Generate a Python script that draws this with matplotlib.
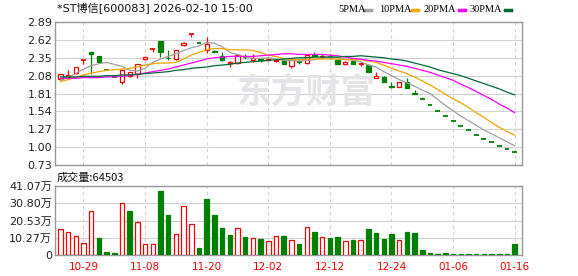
import matplotlib.pyplot as plt
import numpy as np
from matplotlib.lines import Line2D

plt.rcParams['font.family'] = ['DejaVu Sans', 'Noto Sans CJK SC']

# daily candles
opens = [2.03, 2.06, 2.12, 2.32, 2.44, 2.37, 2.17, 2.06, 1.98, 2.08,
         2.11, 2.33, 2.48, 2.60, 2.35, 2.33, 2.54, 2.71, 2.57, 2.47,
         2.45, 2.38, 2.27, 2.27, 2.37, 2.31, 2.33, 2.31, 2.30, 2.31,
         2.22, 2.30, 2.27, 2.39, 2.36, 2.37, 2.32, 2.25, 2.30, 2.26,
         2.24, 2.04, 2.06, 1.92, 1.91, 1.98, 1.82, 1.72, 1.63, 1.54,
         1.47, 1.39, 1.32, 1.26, 1.19, 1.13, 1.08, 1.02, 0.97, 0.92]
highs = [2.11, 2.16, 2.21, 2.32, 2.44, 2.37, 2.17, 2.06, 2.17, 2.14,
         2.26, 2.36, 2.48, 2.60, 2.47, 2.47, 2.59, 2.71, 2.57, 2.66,
         2.47, 2.44, 2.30, 2.40, 2.41, 2.41, 2.35, 2.34, 2.33, 2.31,
         2.31, 2.31, 2.39, 2.43, 2.40, 2.40, 2.33, 2.30, 2.31, 2.29,
         2.26, 2.14, 2.07, 1.98, 1.99, 2.04, 1.87, 1.75, 1.63, 1.54,
         1.47, 1.39, 1.32, 1.26, 1.19, 1.13, 1.08, 1.02, 0.97, 0.92]
lows = [2.01, 2.05, 2.11, 2.25, 2.10, 2.28, 2.17, 2.06, 1.96, 2.06,
        2.05, 2.32, 2.44, 2.36, 2.32, 2.32, 2.53, 2.66, 2.57, 2.42,
        2.43, 2.30, 2.21, 2.26, 2.33, 2.29, 2.29, 2.30, 2.29, 2.25,
        2.20, 2.26, 2.26, 2.36, 2.35, 2.35, 2.25, 2.24, 2.25, 2.23,
        2.14, 2.04, 1.98, 1.90, 1.91, 1.90, 1.81, 1.72, 1.63, 1.54,
        1.47, 1.39, 1.32, 1.26, 1.19, 1.13, 1.08, 1.02, 0.97, 0.92]
closes = [2.10, 2.09, 2.21, 2.32, 2.41, 2.29, 2.17, 2.06, 2.16, 2.13,
          2.25, 2.36, 2.48, 2.43, 2.34, 2.46, 2.58, 2.71, 2.57, 2.56,
          2.44, 2.31, 2.29, 2.39, 2.36, 2.34, 2.32, 2.33, 2.32, 2.26,
          2.31, 2.29, 2.39, 2.37, 2.38, 2.36, 2.26, 2.29, 2.25, 2.27,
          2.14, 2.08, 1.98, 1.91, 1.98, 1.90, 1.81, 1.72, 1.63, 1.54,
          1.47, 1.39, 1.32, 1.26, 1.19, 1.13, 1.08, 1.02, 0.97, 0.92]

ma5 = [2.01, 2.06, 2.11, 2.18, 2.23, 2.26, 2.28, 2.25, 2.22, 2.16,
       2.15, 2.19, 2.28, 2.33, 2.37, 2.41, 2.46, 2.50, 2.53, 2.58,
       2.57, 2.52, 2.43, 2.40, 2.36, 2.34, 2.34, 2.35, 2.33, 2.31,
       2.31, 2.30, 2.31, 2.32, 2.35, 2.36, 2.35, 2.33, 2.31, 2.29,
       2.24, 2.21, 2.14, 2.08, 2.02, 1.97, 1.92, 1.86, 1.81, 1.72,
       1.63, 1.55, 1.47, 1.40, 1.33, 1.26, 1.20, 1.14, 1.08, 1.02]
ma10 = [1.99, 2.02, 2.05, 2.09, 2.12, 2.14, 2.16, 2.17, 2.18, 2.19,
        2.21, 2.24, 2.26, 2.27, 2.27, 2.28, 2.33, 2.39, 2.43, 2.47,
        2.49, 2.49, 2.47, 2.47, 2.47, 2.46, 2.43, 2.39, 2.37, 2.34,
        2.32, 2.32, 2.33, 2.33, 2.33, 2.33, 2.33, 2.32, 2.32, 2.32,
        2.30, 2.28, 2.24, 2.19, 2.15, 2.11, 2.06, 2.00, 1.94, 1.87,
        1.80, 1.73, 1.67, 1.60, 1.52, 1.45, 1.37, 1.30, 1.24, 1.18]
ma20 = [2.04, 2.04, 2.04, 2.05, 2.05, 2.05, 2.06, 2.06, 2.07, 2.08,
        2.10, 2.12, 2.14, 2.16, 2.18, 2.21, 2.24, 2.27, 2.30, 2.33,
        2.35, 2.36, 2.37, 2.37, 2.37, 2.37, 2.38, 2.39, 2.40, 2.41,
        2.41, 2.40, 2.40, 2.40, 2.40, 2.39, 2.38, 2.36, 2.34, 2.33,
        2.31, 2.30, 2.28, 2.26, 2.24, 2.22, 2.19, 2.16, 2.13, 2.09,
        2.05, 2.01, 1.95, 1.90, 1.84, 1.78, 1.72, 1.65, 1.59, 1.52]
ma30 = [2.06, 2.06, 2.06, 2.07, 2.07, 2.07, 2.08, 2.08, 2.09, 2.09,
        2.10, 2.11, 2.12, 2.13, 2.14, 2.16, 2.17, 2.19, 2.20, 2.21,
        2.23, 2.24, 2.25, 2.27, 2.28, 2.29, 2.30, 2.31, 2.32, 2.33,
        2.34, 2.35, 2.35, 2.36, 2.36, 2.36, 2.36, 2.37, 2.37, 2.38,
        2.37, 2.36, 2.35, 2.33, 2.32, 2.30, 2.27, 2.24, 2.21, 2.17,
        2.14, 2.11, 2.08, 2.04, 2.00, 1.96, 1.92, 1.88, 1.83, 1.79]

# volume in 万, and whether the bar is drawn red (1) or green (0)
volume = [15.2, 13.6, 11.1, 7.1, 25.9, 10.1, 1.8, 1.2, 31.2, 26.1,
          19.4, 6.3, 6.3, 37.9, 23.7, 12.3, 28.9, 18.4, 4.1, 33.2,
          23.7, 16.0, 11.9, 15.8, 10.7, 9.9, 9.5, 8.1, 11.1, 11.1,
          8.9, 6.5, 16.4, 13.6, 10.5, 10.1, 10.7, 8.3, 8.9, 8.9,
          15.4, 13.2, 9.5, 12.4, 8.9, 13.6, 13.2, 3.0, 1.2, 0.6,
          1.2, 0.6, 0.6, 0.6, 0.6, 0.6, 0.6, 0.6, 0.6, 6.45]
vol_up = [1, 1, 1, 1, 1, 0, 0, 0, 1, 0,
          1, 1, 1, 0, 0, 1, 1, 1, 0, 0,
          0, 0, 0, 1, 0, 1, 0, 1, 1, 0,
          1, 0, 1, 0, 1, 0, 0, 1, 0, 1,
          0, 0, 0, 0, 1, 0, 0, 0, 0, 0,
          0, 0, 0, 0, 0, 0, 0, 0, 0, 0]

date_labels = ["10-29", "11-08", "11-20", "12-02", "12-12", "12-24", "01-06", "01-16"]
price_ticks = [2.89, 2.62, 2.35, 2.08, 1.81, 1.54, 1.27, 1.00, 0.73]
vol_ticks = [0, 10.27, 20.53, 30.80, 41.07]
title = "*ST博信[600083] 2026-02-10 15:00"
last_volume = "成交量:64503"

RED = "#ff0000"
GREEN = "#008000"
GRID = "#d2d2d2"
W, H = 578, 276

fig = plt.figure(figsize=(W / 100, H / 100), dpi=100)
ax = fig.add_axes([55 / W, 111 / H, 467 / W, 143 / H])
axv = fig.add_axes([55 / W, 21 / H, 467 / W, 69 / H])

x = np.arange(len(closes))
o = np.array(opens)
c = np.array(closes)
up = (c > o) | ((c == o) & (np.array(vol_up) == 1))
cols = np.where(up, RED, GREEN)

# watermark
fig.text(306 / W, 1 - 92 / H, "东方财富", fontsize=25, fontweight="bold",
         color="#e4e4e8", ha="center", va="center", family="Noto Sans CJK SC", zorder=0)

# candles
ax.vlines(x, lows, highs, colors=cols, lw=0.9, zorder=3)
body = c != o
ax.bar(x[body], np.abs(c - o)[body], 0.56, bottom=np.minimum(o, c)[body],
       facecolor=np.where(c > o, "white", cols)[body], edgecolor=cols[body], lw=0.9, zorder=4)
flat = ~body
ax.hlines(o[flat], x[flat] - 0.32, x[flat] + 0.32, colors=cols[flat], lw=1.3, zorder=4)

ax.plot(x, ma5, color="#a0a0a0", lw=0.9, zorder=5)
ax.plot(x, ma10, color="#f5a500", lw=0.9, zorder=5)
ax.plot(x, ma20, color="#ff00ff", lw=0.9, zorder=5)
ax.plot(x, ma30, color="#006a35", lw=0.9, zorder=5)

# volume
axv.bar(x, volume, 0.58, facecolor=np.where(np.array(vol_up) == 1, "white", GREEN),
        edgecolor=np.where(np.array(vol_up) == 1, RED, GREEN), lw=0.9, zorder=3)

tick_pos = [3 + 8 * k for k in range(len(date_labels))]
for a in (ax, axv):
    a.set_xlim(-0.7, 59.95)
    a.set_xticks(tick_pos)
    a.grid(axis="y", color=GRID, lw=0.8, zorder=1)
    a.grid(axis="x", color=GRID, lw=0.8, linestyle=(0, (3, 3)), zorder=1)
    a.tick_params(length=0, labelsize=8, colors="#222222")
    for s in a.spines.values():
        s.set_color("#999999")
        s.set_linewidth(1.0)
    a.set_facecolor("none")

ax.set_ylim(0.73, 2.89)
ax.set_yticks(price_ticks)
ax.set_yticklabels(["%.2f" % v for v in price_ticks])
ax.set_xticklabels([])
ax.tick_params(axis="y", pad=2)

axv.set_ylim(0, 41.07)
axv.set_yticks(vol_ticks)
axv.set_yticklabels(["0"] + ["%.2f万" % v for v in vol_ticks[1:]])
axv.set_xticklabels(date_labels)
axv.tick_params(axis="x", colors=RED, labelsize=7.5, pad=5)
axv.tick_params(axis="y", pad=2)

fig.text(57 / W, 1 - 8 / H, title, fontsize=8, va="center", color="#111111")
fig.text(57 / W, 1 - 177.5 / H, last_volume, fontsize=8, va="center", color="#111111",
         family=["Noto Sans CJK SC", "DejaVu Sans"])

legend = [("5PMA", 338, 365, "#a0a0a0"), ("10PMA", 379, 412, "#f5a500"),
          ("20PMA", 424, 459, "#ff00ff"), ("30PMA", 470, 505, "#006a35")]
for name, tx, lx, col in legend:
    fig.text(tx / W, 1 - 9 / H, name, fontsize=7.5, family="Liberation Serif", va="center")
    fig.add_artist(Line2D([lx / W, (lx + 6) / W], [1 - 9.5 / H] * 2,
                          transform=fig.transFigure, color=col, lw=2.5))

fig.savefig("out.png", dpi=100)
